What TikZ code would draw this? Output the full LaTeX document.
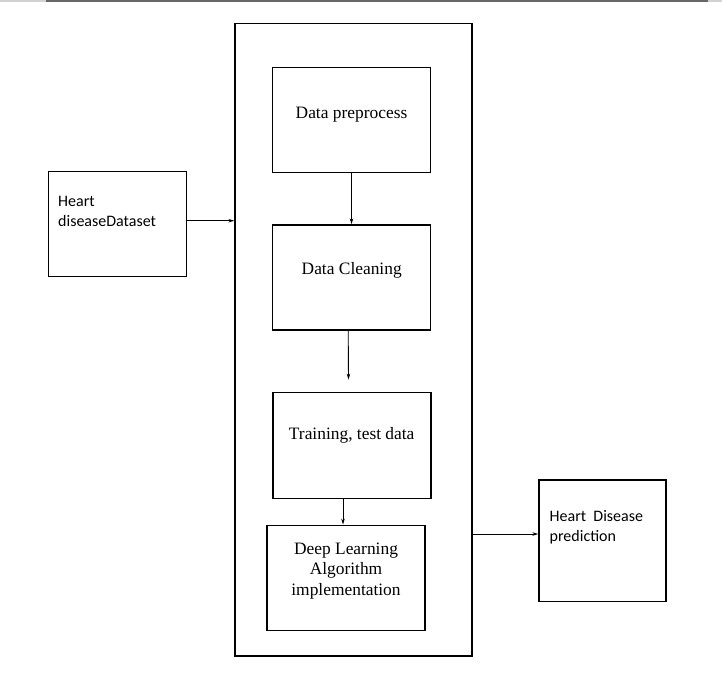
\documentclass[tikz,border=0pt]{standalone}
\usepackage{fontspec}
\setmainfont{Liberation Serif}
\newfontfamily\calfont{Carlito}
\usetikzlibrary{arrows.meta}

\begin{document}
\begin{tikzpicture}[x=1pt,y=-1pt,
  stepbox/.style={draw,line width=1.4pt,minimum width=158pt,minimum height=105pt,inner sep=0pt},
  steptext/.style={inner sep=0pt,align=center,font=\fontsize{17.4}{20.5}\selectfont},
  iobox/.style={draw,line width=1.4pt,inner sep=0pt},
  iotext/.style={inner sep=0pt,anchor=north west,align=left,font=\calfont\fontsize{16}{20}\selectfont},
  flow/.style={line width=0.9pt,-{Stealth[length=6pt,width=3.5pt]}}]
  \useasboundingbox (0,0) rectangle (722,683);
  \draw[line width=1.5pt,gray!35] (0,0.8) -- (722,0.8);
  \draw[line width=1.5pt,black!60] (46,0.8) -- (708,0.8);
  \node[iobox,minimum width=237pt,minimum height=632.7pt] (core) at (353.6,339.7) {};
  \node[stepbox] (prep) at (351.5,119.8) {};
  \node[stepbox] (clean) at (351.5,277.5) {};
  \node[stepbox,minimum height=106pt] (train) at (351.8,445.3) {};
  \node[stepbox] (dl) at (346,577.8) {};
  \node[iobox,minimum width=138.4pt,minimum height=105pt] (data) at (117.5,224.2) {};
  \node[iobox,minimum width=127pt,minimum height=121.7pt] (pred) at (602.5,540.8) {};
  \node[steptext] (preptxt) at (351.5,114.4) {Data preprocess};
  \node[steptext] (cleantxt) at (351.7,270.8) {Data Cleaning};
  \node[steptext] (traintxt) at (351.7,435) {Training, test data};
  \node[steptext] (dltxt) at (346,570.6) {Deep Learning\\Algorithm\\implementation};
  \node[iotext] (datatxt) at (58,195.8) {Heart\\diseaseDataset};
  \node[iotext] (predtxt) at (549.5,510.5) {Heart\ \ Disease\\prediction};
  \draw[flow] ([yshift=3.5pt]data.east) -- ([yshift=3.5pt]data.east -| core.west);
  \draw[flow] (prep) -- (clean);
  \draw[flow] ([xshift=-3.3pt]clean.south) -- ([xshift=-3.3pt,yshift=12pt]train.north);
  \draw[flow] ([xshift=-8.8pt]train.south) -- ([xshift=-8.8pt]train.south |- dl.north);
  \draw[flow] ([yshift=6.8pt]pred.west -| core.east) -- ([yshift=6.8pt]pred.west);
\end{tikzpicture}
\end{document}
